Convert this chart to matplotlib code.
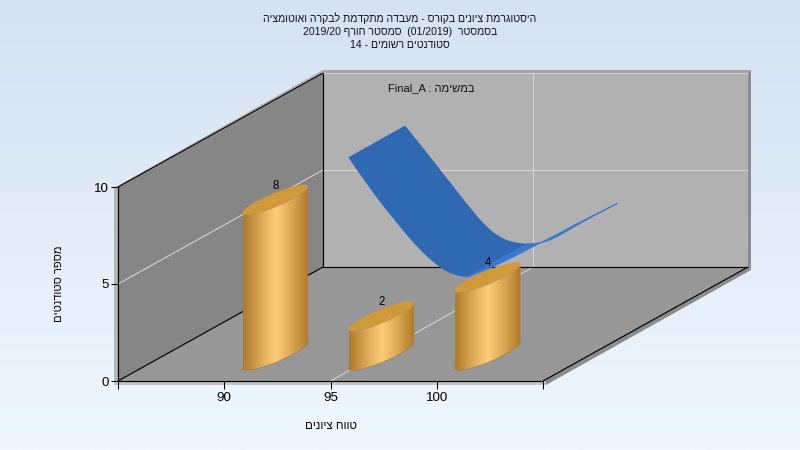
import numpy as np
import matplotlib
matplotlib.use("Agg")
import matplotlib.pyplot as plt
from matplotlib.patches import Polygon

plt.rcParams['font.family'] = ['Liberation Sans', 'DejaVu Sans']

# ---- data
categories = [90, 95, 100]
counts = [8, 2, 4]
x_ticks = [85, 90, 95, 100, 105]
x_tick_labels = ['', '90', '95', '100', '']
y_ticks = [0, 5, 10]

curve_front_x = [94.92, 95.63, 96.41, 97.2, 97.98, 98.76, 99.39, 99.94, 100.49, 100.96, 101.9, 103.15, 104.73, 105.98, 107.6]
curve_front_v = [10.97, 9.85, 8.68, 7.6, 6.58, 5.73, 5.2, 4.92, 4.82, 5.0, 5.42, 6.1, 7.0, 7.72, 8.6]
curve_back_x = [94.99, 95.85, 96.63, 97.42, 98.04, 98.67, 99.3, 99.93, 100.71, 101.49, 102.12, 103.07, 104.0, 105.0]
curve_back_v = [11.02, 9.85, 8.76, 7.66, 6.8, 6.0, 5.4, 5.07, 4.93, 5.02, 5.29, 5.88, 6.44, 7.02]


def rev(s):
    return s[::-1]


title_lines = [
    rev("היסטוגרמת ציונים בקורס - מעבדה מתקדמת לבקרה ואוטומציה"),
    "2019/20 " + rev("סמסטר חורף") + "  (01/2019)  " + rev("בסמסטר"),
    "14 - " + rev("סטודנטים רשומים"),
]
inner_label = "Final_A : " + rev("במשימה")
x_title = rev("טווח ציונים")
y_title = rev("מספר סטודנטים")

# ---- layout
W, H = 800, 450
L, R, B, T = 118, 543, 381, 187
DEPTH_PX = (205, 114)
fig = plt.figure(figsize=(8, 4.5), dpi=100)

bg = fig.add_axes([0, 0, 1, 1], zorder=0)
bg.axis('off')
grad = np.linspace(0, 1, 256)[:, None, None]
top_c = np.array([0xD5, 0xE2, 0xF2]) / 255
bot_c = np.array([0xF0, 0xF7, 0xFF]) / 255
bg.imshow(top_c + (bot_c - top_c) * grad, aspect='auto', extent=[0, 1, 0, 1], origin='upper')

ax = fig.add_axes([L / W, (H - B) / H, (R - L) / W, (B - T) / H], zorder=1)
ax.patch.set_visible(False)
x0, x1, v0, v1 = x_ticks[0], x_ticks[-1], y_ticks[0], y_ticks[-1]
UX = (R - L) / (x1 - x0)   # px per grade
UV = (B - T) / (v1 - v0)   # px per student
SX = DEPTH_PX[0] / UX      # depth shear in data units
SV = DEPTH_PX[1] / UV


def proj(x, v, d=0.0):
    return np.asarray(x) + np.asarray(d) * SX, np.asarray(v) + np.asarray(d) * SV


def poly(pts, color, z, **kw):
    p = Polygon(np.column_stack(pts) if isinstance(pts, tuple) else pts, closed=True,
                facecolor=color, edgecolor=kw.pop('ec', 'none'), lw=kw.pop('lw', 0),
                clip_on=False, zorder=z, **kw)
    ax.add_patch(p)
    return p


def pt(x, v, d=0.0, ox=0.0, oy=0.0):
    px, pv = proj(x, v, d)
    return (float(px) + ox / UX, float(pv) - oy / UV)


def line(a, b, color, lw=0.75, z=3):
    ax.plot([a[0], b[0]], [a[1], b[1]], color=color, lw=lw, clip_on=False, zorder=z,
            solid_capstyle='butt')


# rims
poly([pt(x0, v0, 1, 0, -3), pt(x0, v1, 1, 0, -3), pt(x1, v1, 1, 3, -3), pt(x1, v1, 1, 0, 0), pt(x0, v1, 1, 0, 0)], '#A2A2A2', 1)
poly([pt(x1, v1, 1, 3, -3), pt(x1, v0, 1, 3, 3), pt(x1, v0, 1, 0, 0), pt(x1, v1, 1, 0, 0)], '#8C8C8C', 1)
poly([pt(x1, v0, 0, 0, 0), pt(x1, v0, 1, 0, 0), pt(x1, v0, 1, 3, 3), pt(x1, v0, 0, 3, 4)], '#8C8C8C', 1)
poly([pt(x0, v0, 0, -4, 0), pt(x0, v1, 0, -4, 1), pt(x0, v1, 0, 0, 0), pt(x0, v0, 0, 0, 0)], '#B6B6B6', 1)
poly([pt(x0, v1, 0, 0, 0), pt(x0, v1, 1, 0, 0), pt(x0, v1, 1, 0, -3), pt(x0, v1, 0, -4, 1)], '#ABABAB', 1)
poly([pt(x0, v0, 0, -4, 0), pt(x1, v0, 0, 3, 0), pt(x1, v0, 0, 3, 4), pt(x0, v0, 0, -4, 4)], '#C4C4C4', 1)

# walls
poly([pt(x0, v0, 1), pt(x0, v1, 1), pt(x1, v1, 1), pt(x1, v0, 1)], '#B1B1B1', 2)
poly([pt(x0, v0, 0), pt(x0, v1, 0), pt(x0, v1, 1), pt(x0, v0, 1)], '#868686', 2)
poly([pt(x0, v0, 0), pt(x1, v0, 0), pt(x1, v0, 1), pt(x0, v0, 1)], '#979797', 2)

# grid
GRID = '#D6D6D6'
GRID_X = 95
for v in y_ticks[1:]:
    line(pt(x0, v, 0), pt(x0, v, 1), GRID)
    line(pt(x0, v, 1), pt(x1, v, 1), GRID)
line(pt(GRID_X, v0, 0), pt(GRID_X, v0, 1, -2.5, 0), GRID)
line(pt(GRID_X, v0, 1, -2.5, 0), pt(GRID_X, v1, 1, -2.5, 0), GRID)

# frame lines
for a, b in [
    (pt(x0, v1, 0), pt(x0, v1, 1)),
    (pt(x0, v1, 1), pt(x0, v0, 1)),
    (pt(x0, v0, 1), pt(x1, v0, 1)),
    (pt(x0, v0, 0), pt(x0, v0, 1)),
    (pt(x1, v0, 0), pt(x1, v0, 1)),
]:
    line(a, b, 'black', lw=0.85, z=3)


# ribbon
def smooth(xs, vs, n=10):
    P = np.column_stack([xs, vs])
    P = np.vstack([2 * P[0] - P[1], P, 2 * P[-1] - P[-2]])
    out = []
    for i in range(1, len(P) - 2):
        for t in np.linspace(0, 1, n, endpoint=False):
            out.append(0.5 * (2 * P[i] + (P[i + 1] - P[i - 1]) * t
                              + (2 * P[i - 1] - 5 * P[i] + 4 * P[i + 1] - P[i + 2]) * t ** 2
                              + (3 * P[i] - P[i - 1] - 3 * P[i + 1] + P[i + 2]) * t ** 3))
    out.append(P[-2])
    return np.array(out)


D0, D1 = 0.095, 0.365
SPLIT_F, SPLIT_B = 8, 8
n = 10
fr = smooth(curve_front_x, curve_front_v, n)
bk = smooth(curve_back_x, curve_back_v, n)
fr = np.column_stack(proj(fr[:, 0], fr[:, 1], D0))
bk = np.column_stack(proj(bk[:, 0], bk[:, 1], D1))
fi, bi = SPLIT_F * n, SPLIT_B * n
poly(np.vstack([fr[fi:], bk[bi:][::-1]]), '#3A78CF', 4, ec='#3A78CF', lw=0.6)
poly(np.vstack([fr[:fi + 1], bk[:bi + 1][::-1]]), '#2F69B4', 4.1)

# cylinders
BAR_OFFSET, BAR_D, BAR_RD, BAR_RX, BAR_RS = 0.2, 0.228, 0.1316, 0.74, 0.08
cmap = matplotlib.colors.LinearSegmentedColormap.from_list(
    'cyl', ['#AE7A2A', '#D9A653', '#FFCC7A', '#D9A653', '#AE7A2A'])
tr = np.arctan2(BAR_RD * SX + BAR_RS, BAR_RX)
for i, (c, cnt) in enumerate(zip(categories, counts)):
    xc = c + BAR_OFFSET
    ell = lambda t, v: proj(xc + BAR_RX * np.cos(t) + BAR_RS * np.sin(t), v, BAR_D + BAR_RD * np.sin(t))
    tb = np.linspace(tr + np.pi, tr + 2 * np.pi, 80)
    bx, bv = ell(tb, 0)
    tt = tb[::-1]
    ux, uv = ell(tt, cnt)
    outline = np.vstack([np.column_stack([bx, bv]), np.column_stack([ux, uv])])
    ax.plot(bx, bv, color='#A67A30', lw=0.8, clip_on=False, zorder=5 + i)
    im = ax.imshow(np.linspace(0, 1, 128)[None, :], cmap=cmap, aspect='auto', zorder=5.1 + i,
                   extent=[bx.min(), bx.max(), bv.min(), uv.max()], clip_on=True, interpolation='bilinear')
    clip = Polygon(outline, closed=True, transform=ax.transData)
    im.set_clip_path(clip)
    im.set_clip_box(fig.bbox)
    tf = np.linspace(0, 2 * np.pi, 120)
    tx, tv = ell(tf, cnt)
    poly((tx, tv), '#D09A3B', 5.2 + i)
    cx, cv = proj(xc, cnt, BAR_D)
    ax.annotate(str(cnt), (cx, cv), xytext=(0, 14), textcoords='offset pixels', ha='center', va='center',
                fontsize=8.3, color='black', zorder=9, annotation_clip=False)

ax.set_xlim(x0, x1)
ax.set_ylim(v0, v1)
ax.set_xticks(x_ticks)
ax.set_xticklabels(x_tick_labels)
ax.set_yticks(y_ticks)
ax.tick_params(axis='x', length=5.8, width=0.75, pad=2, labelsize=9.6)
ax.tick_params(axis='y', length=5, width=0.75, pad=1.5, labelsize=9.6)
for s in ('top', 'right'):
    ax.spines[s].set_visible(False)
for s in ('left', 'bottom'):
    ax.spines[s].set_linewidth(0.85)
    ax.spines[s].set_zorder(4)
ax.set_xlabel(x_title, fontsize=8.3)
ax.set_ylabel(y_title, fontsize=8)
ax.xaxis.set_label_coords(0.5, -0.232)
ax.yaxis.set_label_coords(-0.1385, 0.5)
ax.xaxis.label.set_va('center')
ax.yaxis.label.set_va('center')

fig.text(0.5, 1 - 12.5 / H, "\n".join(title_lines), ha='center', va='top', fontsize=7.6,
         color='#101020', linespacing=1.36)
fig.text(431 / W, 1 - 88 / H, inner_label, ha='center', va='center', fontsize=8, color='#101010', zorder=10)

fig.savefig('out.png', dpi=100)
